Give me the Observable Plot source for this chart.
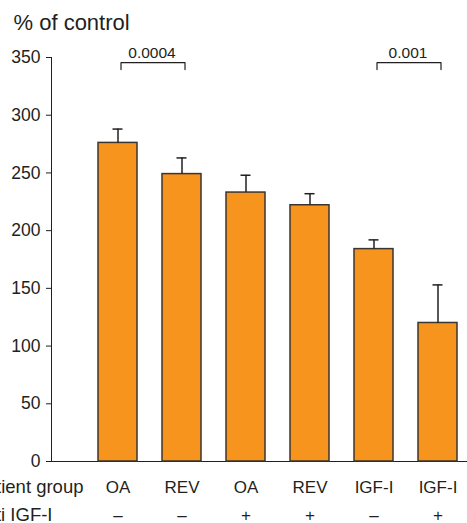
<!DOCTYPE html>
<html>
<head>
<meta charset="utf-8">
<script src="https://cdn.jsdelivr.net/npm/d3@7"></script>
<script src="https://cdn.jsdelivr.net/npm/@observablehq/plot@0.6"></script>
<style>
  html, body { margin: 0; padding: 0; background: #fff; }
  #chart svg { display: block; overflow: visible; }
</style>
</head>
<body>
<div id="chart"></div>
<script>
// ---- data ----
const patientGroups = ["OA", "REV", "OA", "REV", "IGF-I", "IGF-I"];
const antiIGF = ["\u2013", "\u2013", "+", "+", "\u2013", "+"];
const means = [276, 249, 233, 222, 184, 120];
const errors = [12, 14, 15, 10, 8, 33];
const yTicks = [0, 50, 100, 150, 200, 250, 300, 350];
const comparisons = [
  {from: 0, to: 1, p: "0.0004"},
  {from: 4, to: 5, p: "0.001"}
];
const bracketLevel = 345.5;
const bracketLeg = 6;
const titleText = "% of control";
const rowLabels = ["Patient group", "Anti IGF-I"];

// ---- build tables ----
const keys = patientGroups.map((g, i) => g + antiIGF[i] + i);
const data = keys.map((k, i) => ({key: k, group: patientGroups[i], anti: antiIGF[i], mean: means[i], hi: means[i] + errors[i]}));
const bracketLines = comparisons.flatMap((c, j) => [
  {id: j, x: keys[c.from], y: bracketLevel - bracketLeg},
  {id: j, x: keys[c.from], y: bracketLevel},
  {id: j, x: keys[c.to], y: bracketLevel},
  {id: j, x: keys[c.to], y: bracketLevel - bracketLeg}
]);
const bracketLabels = comparisons.map(c => ({x: keys[c.from], p: c.p}));

const ink = "#231f20";
const font = "'Liberation Sans', Arial, Helvetica, sans-serif";

const chart = Plot.plot({
  width: 467,
  height: 523,
  marginTop: 57,
  marginBottom: 62,
  marginLeft: 51,
  marginRight: 0,
  style: {fontFamily: font, fontSize: "17.5px", color: ink, background: "#fff", overflow: "visible"},
  x: {
    domain: keys,
    paddingInner: 0.394,
    paddingOuter: 0.427,
    align: 0.82,
    axis: "bottom",
    tickSize: 0,
    tickFormat: () => "",
    line: true,
    label: null
  },
  y: {
    domain: [0, 350],
    ticks: yTicks,
    tickSize: 5,
    tickPadding: 6,
    line: true,
    label: null
  },
  marks: [
    Plot.barY(data, {x: "key", y: "mean", fill: "#F7941D", stroke: "#3b3532", strokeWidth: 1.5}),
    Plot.ruleX(data, {x: "key", y1: "mean", y2: "hi", stroke: ink, strokeWidth: 1.5}),
    Plot.tickY(data, {x: "key", y: "hi", stroke: ink, strokeWidth: 1.5, insetLeft: 14.5, insetRight: 14.5}),
    Plot.line(bracketLines, {x: "x", y: "y", z: "id", stroke: ink, strokeWidth: 1.2, dx: 3, curve: "linear"}),
    Plot.text(bracketLabels, {x: "x", y: bracketLevel + 8, text: "p", dx: 34, fontSize: 15.5, fill: ink}),
    Plot.text(data, {x: "key", text: "group", frameAnchor: "bottom", dy: 31, fontSize: 17, fill: ink}),
    Plot.text(data, {x: "key", text: "anti", frameAnchor: "bottom", dy: 59, fontSize: 17, fill: ink}),
    Plot.text([rowLabels[0]], {text: d => d, frameAnchor: "bottom-left", textAnchor: "end", dx: 32, dy: 31, fontSize: 18.5, fill: ink}),
    Plot.text([rowLabels[1]], {text: d => d, frameAnchor: "bottom-left", textAnchor: "end", dx: 1, dy: 59, fontSize: 18.5, fill: ink}),
    Plot.text([titleText], {text: d => d, frameAnchor: "top-left", textAnchor: "start", dx: -38, dy: -43, fontSize: 22, fill: ink})
  ]
});
document.getElementById("chart").append(chart);
</script>
</body>
</html>
